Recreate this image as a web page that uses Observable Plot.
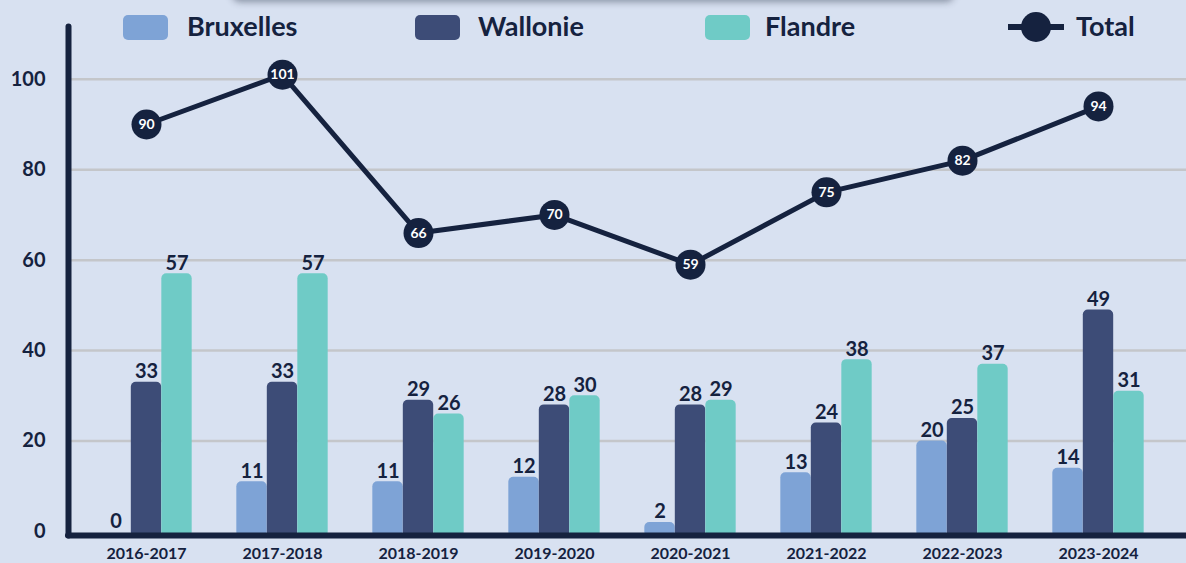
<!DOCTYPE html>
<html>
<head>
<meta charset="utf-8">
<script src="https://cdn.jsdelivr.net/npm/d3@7"></script>
<script src="https://cdn.jsdelivr.net/npm/@observablehq/plot@0.6"></script>
<style>
  html, body { margin: 0; padding: 0; background: #d8e1f1; }
  #wrap { position: relative; width: 1186px; height: 563px; overflow: hidden; background: #d8e1f1; font-family: Lato, "Open Sans", sans-serif; }
  #shadowbox { position: absolute; left: 232px; top: -40px; width: 722px; height: 40px; background: #dfe6f3; border-radius: 8px; box-shadow: 0 2px 7px rgba(40,50,70,0.45); z-index: 2; }
  .lg { position: absolute; z-index: 3; }
  .sw { top: 15px; width: 45px; height: 25px; border-radius: 5px; }
  .lt { top: 8px; height: 36px; line-height: 36px; font-size: 27px; font-weight: 700; color: #15223f; white-space: nowrap; }
  #chart { position: absolute; left: 0; top: 0; z-index: 1; }
</style>
</head>
<body>
<div id="wrap">
  <div id="shadowbox"></div>
  <div id="chart"></div>
  <div id="legend"></div>
</div>
<script>
// ---- data ----
const years = ["2016-2017", "2017-2018", "2018-2019", "2019-2020", "2020-2021", "2021-2022", "2022-2023", "2023-2024"];
const bruxelles = [0, 11, 11, 12, 2, 13, 20, 14];
const wallonie = [33, 33, 29, 28, 28, 24, 25, 49];
const flandre = [57, 57, 26, 30, 29, 38, 37, 31];
const total = [90, 101, 66, 70, 59, 75, 82, 94];
const yTicks = [0, 20, 40, 60, 80, 100];
const seriesNames = ["Bruxelles", "Wallonie", "Flandre", "Total"];

// ---- styling ----
const navy = "#15223f";
const colors = {Bruxelles: "#7ea3d6", Wallonie: "#3d4c77", Flandre: "#6fcbc6"};
const W = 1186, H = 563;
const mL = 68, mR = 0, mT = 20, mB = 32, inL = 9, inR = 20;
const step = (W - mL - mR - inL - inR) / years.length;
const BW = 30.5;
const barInset = (step - BW) / 2;

const rows = years.map((year, i) => ({
  year, bruxelles: bruxelles[i], wallonie: wallonie[i], flandre: flandre[i], total: total[i]
}));

const series = [
  {key: "bruxelles", name: "Bruxelles", dx: -BW},
  {key: "wallonie", name: "Wallonie", dx: 0},
  {key: "flandre", name: "Flandre", dx: BW}
];

const marks = [
  Plot.gridY(yTicks.filter(t => t > 0), {stroke: "#c4c6ca", strokeOpacity: 1, strokeWidth: 2.5})
];
for (const s of series) {
  marks.push(Plot.barY(rows.filter(d => d[s.key] > 0), {
    x: "year", y: s.key, fill: colors[s.name],
    insetLeft: barInset, insetRight: barInset, insetBottom: -6, dx: s.dx, rx: 5
  }));
  marks.push(Plot.text(rows, {
    x: "year", y: s.key, text: d => String(d[s.key]), dx: s.dx, dy: -4,
    lineAnchor: "bottom", fontSize: 20, fontWeight: 700, fill: navy
  }));
}
marks.push(
  Plot.line(rows, {x: "year", y: "total", stroke: navy, strokeWidth: 5}),
  Plot.dot(rows, {x: "year", y: "total", r: 15, fill: navy}),
  Plot.text(rows, {x: "year", y: "total", text: d => String(d.total), fill: "white", fontSize: 14, fontWeight: 700}),
  Plot.axisY({ticks: yTicks, tickSize: 0, tickPadding: 23, fontSize: 20, fontWeight: 700, fill: navy}),
  Plot.axisX({tickSize: 0, tickPadding: 16, fontSize: 16, fontWeight: 700, fill: navy}),
  Plot.frame({anchor: "left", stroke: navy, strokeWidth: 6, insetTop: 6, insetBottom: -4, strokeLinecap: "round"}),
  Plot.ruleY([0], {stroke: navy, strokeWidth: 6, dy: 4, strokeLinecap: "round"})
);

const chart = Plot.plot({
  width: W, height: H,
  marginLeft: mL, marginRight: mR, marginTop: mT, marginBottom: mB,
  style: {background: "transparent", fontFamily: "Lato, 'Open Sans', sans-serif", color: navy, overflow: "visible"},
  x: {domain: years, type: "band", padding: 0, insetLeft: inL, insetRight: inR, label: null},
  y: {domain: [0, 113], label: null},
  marks
});
document.getElementById("chart").appendChild(chart);

// ---- legend (HTML overlay) ----
const legend = document.getElementById("legend");
const legendPos = {
  Bruxelles: {sw: 123, tx: 187},
  Wallonie: {sw: 415, tx: 478},
  Flandre: {sw: 705, tx: 765},
  Total: {sw: 1008, tx: 1076}
};
for (const name of seriesNames) {
  const p = legendPos[name];
  if (name === "Total") {
    const ns = "http://www.w3.org/2000/svg";
    const svg = document.createElementNS(ns, "svg");
    svg.setAttribute("width", 56); svg.setAttribute("height", 34);
    svg.setAttribute("class", "lg");
    svg.style.left = p.sw + "px"; svg.style.top = "10px";
    const ln = document.createElementNS(ns, "line");
    ln.setAttribute("x1", 0); ln.setAttribute("x2", 56); ln.setAttribute("y1", 17); ln.setAttribute("y2", 17);
    ln.setAttribute("stroke", navy); ln.setAttribute("stroke-width", 6);
    const c = document.createElementNS(ns, "circle");
    c.setAttribute("cx", 28); c.setAttribute("cy", 17); c.setAttribute("r", 15); c.setAttribute("fill", navy);
    svg.appendChild(ln); svg.appendChild(c);
    legend.appendChild(svg);
  } else {
    const sw = document.createElement("div");
    sw.className = "lg sw";
    sw.style.left = p.sw + "px";
    sw.style.background = colors[name];
    legend.appendChild(sw);
  }
  const t = document.createElement("div");
  t.className = "lg lt";
  t.style.left = p.tx + "px";
  t.textContent = name;
  legend.appendChild(t);
}
</script>
</body>
</html>
